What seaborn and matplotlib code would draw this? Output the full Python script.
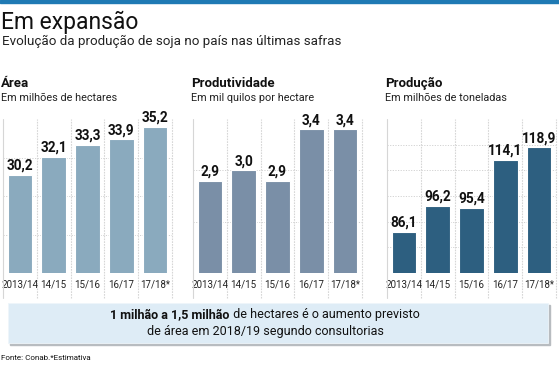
import matplotlib
matplotlib.use("Agg")
import matplotlib.pyplot as plt
import seaborn as sns
import pandas as pd

safras = ["2013/14", "14/15", "15/16", "16/17", "17/18*"]
area = [30.2, 32.1, 33.3, 33.9, 35.2]
produtividade = [2.9, 3.0, 2.9, 3.4, 3.4]
producao = [86.1, 96.2, 95.4, 114.1, 118.9]

painel_titulos = ["Área", "Produtividade", "Produção"]
painel_subtitulos = ["Em milhões de hectares", "Em mil quilos por hectare", "Em milhões de toneladas"]
painel_cores = ["#8aaabe", "#7a8fa7", "#2d5f80"]
painel_ylim = [(20, 36), (2.0, 3.5), (70, 130)]
painel_yticks = [[24, 28, 32], [2.5, 3.0], [80, 90, 100, 110, 120]]

sns.set_style("white")
plt.rcParams["font.family"] = ["Roboto", "DejaVu Sans"]

fig = plt.figure(figsize=(5.59, 3.67), dpi=100)
W, H = 559, 367

def fx(px):
    return px / W

def fy(py):
    return 1 - py / H

# faixa azul no topo
fig.patches.append(plt.Rectangle((0, fy(3)), 1, 3 / H, transform=fig.transFigure,
                                 color="#1f7ab4", zorder=5))

fig.text(fx(1), fy(29), "Em expansão", fontsize=16.5, color="#111111")
fig.text(fx(2), fy(45), "Evolução da produção de soja no país nas últimas safras",
         fontsize=9.6, color="#222222")

lefts = [3, 193, 387]
series = [area, produtividade, producao]
for i in range(3):
    ax = fig.add_axes([fx(lefts[i]), fy(273), fx(169), (273 - 119) / H])
    df = pd.DataFrame({"safra": safras, "valor": series[i]})
    sns.barplot(data=df, x="safra", y="valor", color=painel_cores[i], width=0.73,
                edgecolor="white", linewidth=0.8, saturation=1, ax=ax, zorder=3)
    ax.set_ylim(*painel_ylim[i])
    ax.set_xlim(-0.5, 4.5)
    for s in ax.spines.values():
        s.set_visible(False)
    for yv in painel_yticks[i]:
        ax.axhline(yv, color="#d2d2d2", lw=0.7, ls=(0, (1.2, 1.5)), zorder=1)
    for xv in [-0.5, 0.5, 1.5, 2.5, 3.5, 4.5]:
        ax.plot([xv, xv], [-0.16, 1], transform=ax.get_xaxis_transform(),
                color="#d6d6d6", lw=0.8, ls="-" if xv == -0.5 else (0, (1.5, 1)),
                clip_on=False, zorder=1)
    ax.set_yticks([])
    ax.set_xlabel("")
    ax.set_ylabel("")
    ax.tick_params(axis="x", length=0, pad=5, labelsize=7, labelcolor="#222222")
    for j, v in enumerate(series[i]):
        ax.annotate(f"{v:.1f}".replace(".", ","), (j, v), xytext=(0, 1.5),
                    textcoords="offset points", ha="center", va="bottom",
                    fontsize=9.8, fontweight="bold", color="#111111", zorder=4)
    fig.text(fx(lefts[i] - 2), fy(87), painel_titulos[i], fontsize=9.5,
             fontweight="bold", color="#111111")
    fig.text(fx(lefts[i] - 2), fy(101), painel_subtitulos[i], fontsize=7.8,
             color="#222222")

# caixa de destaque com sombra
fig.patches.append(plt.Rectangle((fx(10), fy(345)), fx(540), (345 - 305) / H,
                                 transform=fig.transFigure, color="#b8bcc0", zorder=1))
fig.patches.append(plt.Rectangle((fx(8), fy(343)), fx(540), (343 - 303) / H,
                                 transform=fig.transFigure, facecolor="#deecf6",
                                 edgecolor="#eef5fa", lw=0.6, zorder=2))

bold_part = "1 milhão a 1,5 milhão"
rest_part = " de hectares é o aumento previsto"
t1 = fig.text(0, fy(318), bold_part, fontsize=9, fontweight="bold", color="#111111",
              zorder=3)
t2 = fig.text(0, fy(318), rest_part, fontsize=9, color="#111111", zorder=3)
fig.canvas.draw()
r = fig.canvas.get_renderer()
w1 = t1.get_window_extent(r).width / W
w2 = t2.get_window_extent(r).width / W
x0 = fx(265) - (w1 + w2) / 2
t1.set_x(x0)
t2.set_x(x0 + w1)
fig.text(fx(265), fy(335), "de área em 2018/19 segundo consultorias", fontsize=9,
         color="#111111", ha="center", zorder=3)

fig.text(fx(1), fy(360), "Fonte: Conab.*Estimativa", fontsize=5.8, color="#111111")

fig.savefig("out.png", dpi=100)
